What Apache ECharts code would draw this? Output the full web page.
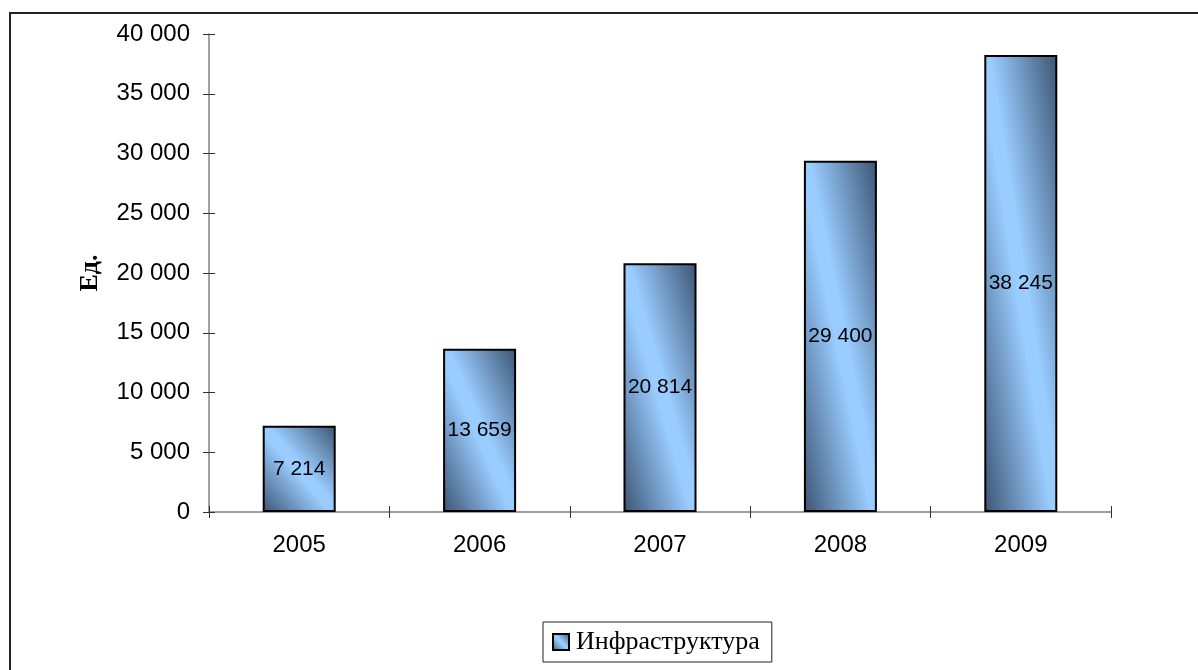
<!DOCTYPE html>
<html>
<head>
<meta charset="utf-8">
<script src="https://cdn.jsdelivr.net/npm/echarts@6/dist/echarts.min.js"></script>
<style>
  html, body { margin: 0; padding: 0; background: #fff; }
  #chart { width: 1198px; height: 670px; }
</style>
</head>
<body>
<div id="chart"></div>
<script>
// Количество объектов инфраструктуры по годам
const years = ['2005', '2006', '2007', '2008', '2009'];
const seriesName = 'Инфраструктура';
const values = [7214, 13659, 20814, 29400, 38245];
const yTicks = { min: 0, max: 40000, interval: 5000 };
const yTitle = 'Ед.';

const DARK = '#3c5473';
const LIGHT = '#99ccff';
const BAR_W = 73;

function spaced(v) {
  return String(v).replace(/\B(?=(\d{3})+(?!\d))/g, ' ');
}

// Diagonal gradient whose light band runs corner to corner (top-left → bottom-right)
function diagGradient(w, h) {
  const a = (h * h) / (h * h + w * w);
  const b = (w * w) / (h * h + w * w);
  return new echarts.graphic.LinearGradient(0.5 - a, 0.5 + b, 0.5 + a, 0.5 - b, [
    { offset: 0, color: DARK },
    { offset: 0.46, color: LIGHT },
    { offset: 0.54, color: LIGHT },
    { offset: 1, color: DARK }
  ]);
}

const chart = echarts.init(document.getElementById('chart'), null, { renderer: 'canvas' });

const axisFont = { fontFamily: '"Liberation Sans", Arial, sans-serif', fontSize: 24, color: '#000' };

const baseY = {
  type: 'value',
  position: 'left',
  min: yTicks.min, max: yTicks.max, interval: yTicks.interval,
  splitLine: { show: false }
};
const baseX = {
  type: 'category',
  position: 'bottom',
  data: years,
  boundaryGap: true,
  splitLine: { show: false }
};

function buildOption(dataItems) {
  return {
    animation: false,
    backgroundColor: '#fff',
    grid: { left: 209, right: 87, top: 34, bottom: 158, containLabel: false },
    xAxis: [
      Object.assign({}, baseX, {
        axisLine: { show: true, lineStyle: { color: '#808080', width: 1.5 } },
        axisTick: { show: true, inside: false, length: 6, lineStyle: { color: '#333', width: 1 } },
        axisLabel: Object.assign({ margin: 21 }, axisFont)
      }),
      Object.assign({}, baseX, {
        axisLine: { show: false },
        axisTick: { show: true, inside: true, length: 6, lineStyle: { color: '#333', width: 1 } },
        axisLabel: { show: false }
      })
    ],
    yAxis: [
      Object.assign({}, baseY, {
        name: yTitle,
        nameLocation: 'middle',
        nameRotate: 90,
        nameGap: 106,
        nameTextStyle: { fontFamily: '"Liberation Serif", "Times New Roman", serif', fontSize: 26, fontWeight: 'bold', color: '#000' },
        axisLine: { show: true, lineStyle: { color: '#808080', width: 1.5 } },
        axisTick: { show: true, inside: false, length: 6, lineStyle: { color: '#333', width: 1 } },
        axisLabel: Object.assign({ margin: 19, formatter: spaced }, axisFont)
      }),
      Object.assign({}, baseY, {
        axisLine: { show: false },
        axisTick: { show: true, inside: true, length: 6, lineStyle: { color: '#333', width: 1 } },
        axisLabel: { show: false }
      })
    ],
    legend: {
      data: [seriesName],
      left: 543,
      top: 622,
      orient: 'horizontal',
      padding: [7, 12, 7, 9],
      borderColor: '#222',
      borderWidth: 1,
      backgroundColor: '#fff',
      itemWidth: 16,
      itemHeight: 16,
      itemGap: 6,
      icon: 'rect',
      textStyle: { fontFamily: '"Liberation Serif", "Times New Roman", serif', fontSize: 26, color: '#000', padding: [0, 0, 0, 2] }
    },
    series: [{
      name: seriesName,
      type: 'bar',
      xAxisIndex: 0,
      yAxisIndex: 0,
      barWidth: BAR_W,
      data: dataItems,
      itemStyle: {
        color: diagGradient(1, 1),
        borderColor: '#000',
        borderWidth: 2
      },
      label: {
        show: true,
        position: 'inside',
        formatter: p => spaced(p.value),
        fontFamily: '"Liberation Sans", Arial, sans-serif',
        fontSize: 21,
        color: '#000'
      }
    }],
    graphic: [{
      type: 'rect',
      silent: true,
      shape: { x: 10, y: 13, width: 1400, height: 900 },
      style: { fill: 'none', stroke: '#222', lineWidth: 2 },
      z: 100
    }]
  };
}

chart.setOption(buildOption(values.slice()));

// Per-bar gradient, sized from each bar's pixel height on the value axis
const zeroPx = chart.convertToPixel({ yAxisIndex: 0 }, 0);
const items = values.map(v => {
  const h = Math.abs(zeroPx - chart.convertToPixel({ yAxisIndex: 0 }, v));
  return { value: v, itemStyle: { color: diagGradient(BAR_W, h) } };
});
chart.setOption({ series: [{ data: items }] });
</script>
</body>
</html>
